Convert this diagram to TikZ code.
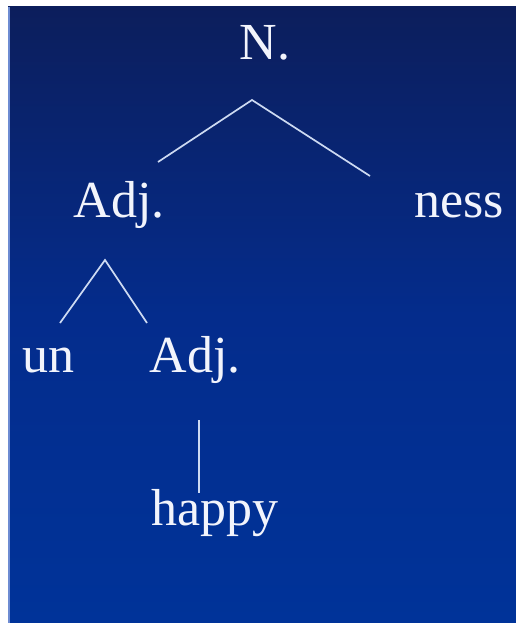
\documentclass[tikz,border=0pt]{standalone}
\usepackage{fontspec}
\setmainfont{Liberation Serif}
\definecolor{bgtop}{RGB}{12,30,92}
\definecolor{bgmid}{RGB}{4,44,140}
\definecolor{bgbot}{RGB}{0,51,153}
\definecolor{txt}{RGB}{242,244,252}
\definecolor{edgecol}{RGB}{205,218,242}
\definecolor{leftstrip}{RGB}{110,140,210}
\tikzset{
  word/.style={anchor=base, inner sep=0pt, text=txt, font=\fontsize{52}{60}\selectfont},
  branch/.style={draw=edgecol, line width=1.7pt}
}
\begin{document}
\begin{tikzpicture}[x=1pt, y=-1pt]
\useasboundingbox (0,0) rectangle (516,623);
\fill[white] (0,0) rectangle (516,623);
\shade[top color=bgtop, bottom color=bgbot, middle color=bgmid] (8,7) rectangle (516,623);
\fill[leftstrip] (8,7) rectangle (10,623);
% words
\node[word] (N) at (265,60) {N.};
\node[word] (A1) at (119,217) {Adj.};
\node[word] (Ness) at (459,217) {ness};
\node[word] (Un) at (48,372) {un};
\node[word] (A2) at (195,372) {Adj.};
\node[word] (H) at (215,525) {happy};
% connector ends
\coordinate (Nfoot) at (252,100);
\coordinate (A1top) at (158,162);
\coordinate (Nesstop) at (370,176);
\coordinate (A1foot) at (105,260);
\coordinate (Untop) at (60,323);
\coordinate (A2top) at (147,323);
\coordinate (A2foot) at (199,420);
\coordinate (Htop) at (199,493);
\draw[branch] (A1top) -- (Nfoot) -- (Nesstop);
\draw[branch] (Untop) -- (A1foot) -- (A2top);
\draw[branch] (A2foot) -- (Htop);
\end{tikzpicture}
\end{document}
